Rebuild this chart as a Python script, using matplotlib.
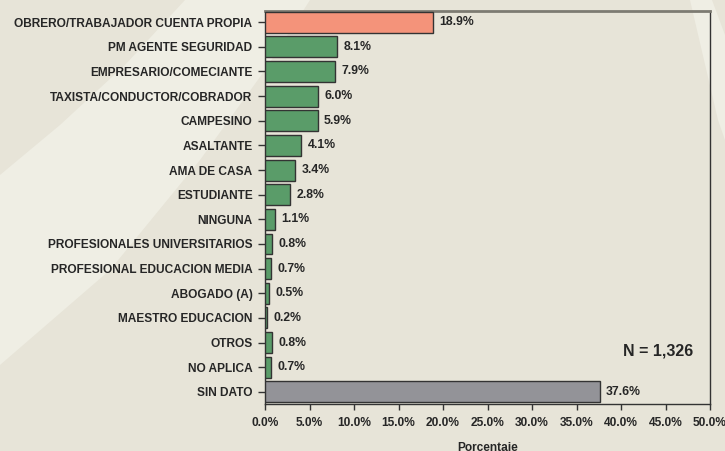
import matplotlib
matplotlib.use("Agg")
import matplotlib.pyplot as plt
from matplotlib.patches import Polygon
from matplotlib.ticker import FuncFormatter

categories = ["OBRERO/TRABAJADOR CUENTA PROPIA", "PM AGENTE SEGURIDAD", "EMPRESARIO/COMECIANTE",
              "TAXISTA/CONDUCTOR/COBRADOR", "CAMPESINO", "ASALTANTE", "AMA DE CASA", "ESTUDIANTE",
              "NINGUNA", "PROFESIONALES UNIVERSITARIOS", "PROFESIONAL EDUCACION MEDIA", "ABOGADO (A)",
              "MAESTRO EDUCACION", "OTROS", "NO APLICA", "SIN DATO"]
values = [18.9, 8.1, 7.9, 6.0, 5.9, 4.1, 3.4, 2.8, 1.1, 0.8, 0.7, 0.5, 0.2, 0.8, 0.7, 37.6]
x_ticks = [0, 5, 10, 15, 20, 25, 30, 35, 40, 45, 50]

plt.rcParams['font.family'] = ['Liberation Sans', 'DejaVu Sans']
plt.rcParams['font.weight'] = 'bold'

bg = '#e7e4d8'
light = '#efeee4'
txt = '#262626'
fig = plt.figure(figsize=(7.25, 4.51), dpi=100, facecolor=bg)

# subtle diagonal light bands in background
W, H = 725, 451
def fpoly(pts, color):
    p = Polygon([(x / W, 1 - y / H) for x, y in pts], closed=True, transform=fig.transFigure,
                facecolor=color, edgecolor='none', zorder=-5)
    fig.add_artist(p)
fpoly([(185, 0), (310, 0), (265, 70), (200, 160), (110, 270), (0, 365),
       (0, 175), (60, 125), (125, 65)], light)
fpoly([(690, 0), (712, 0), (725, 35), (725, 140), (718, 120)], light)

ax = fig.add_axes([265 / W, 1 - 404 / H, (710 - 265) / W, (404 - 11) / H])
ax.set_facecolor('none')
ax.set_zorder(2)

colors = ['#f4937a'] + ['#5a9c69'] * 14 + ['#939398']
y = list(range(len(categories)))
ax.barh(y, values, height=0.85, color=colors, edgecolor='#333333', linewidth=1.0, zorder=3)
for yi, v in zip(y, values):
    ax.text(v + 0.7, yi, f"{v:.1f}%", va='center', ha='left', fontsize=8.8,
            fontweight='bold', color=txt)

ax.set_yticks(y)
ax.set_yticklabels(categories, fontsize=8.6, fontweight='bold', color=txt)
ax.set_ylim(15.49, -0.45)
ax.set_xlim(0, 50)
ax.set_xticks(x_ticks)
ax.xaxis.set_major_formatter(FuncFormatter(lambda v, p: f"{v:.1f}%"))
for lab in ax.get_xticklabels():
    lab.set_fontsize(8.6)
    lab.set_fontweight('bold')
    lab.set_color(txt)
ax.tick_params(axis='y', direction='out', length=5, width=1, color='#333333', pad=4)
ax.tick_params(axis='x', direction='out', length=4.5, width=1, color='#333333', pad=5)
for s in ax.spines.values():
    s.set_color('#333333')
    s.set_linewidth(1.0)
ax.spines['top'].set_color('#7d7b72')
ax.spines['top'].set_linewidth(2.0)

ax.set_xlabel("Porcentaje", fontsize=8.6, fontweight='bold', color=txt, labelpad=9)
ax.text(0.962, 0.135, "N = 1,326", transform=ax.transAxes, ha='right', va='center',
        fontsize=11.5, fontweight='bold', color=txt)

fig.savefig("out.png", dpi=100, facecolor=bg)
